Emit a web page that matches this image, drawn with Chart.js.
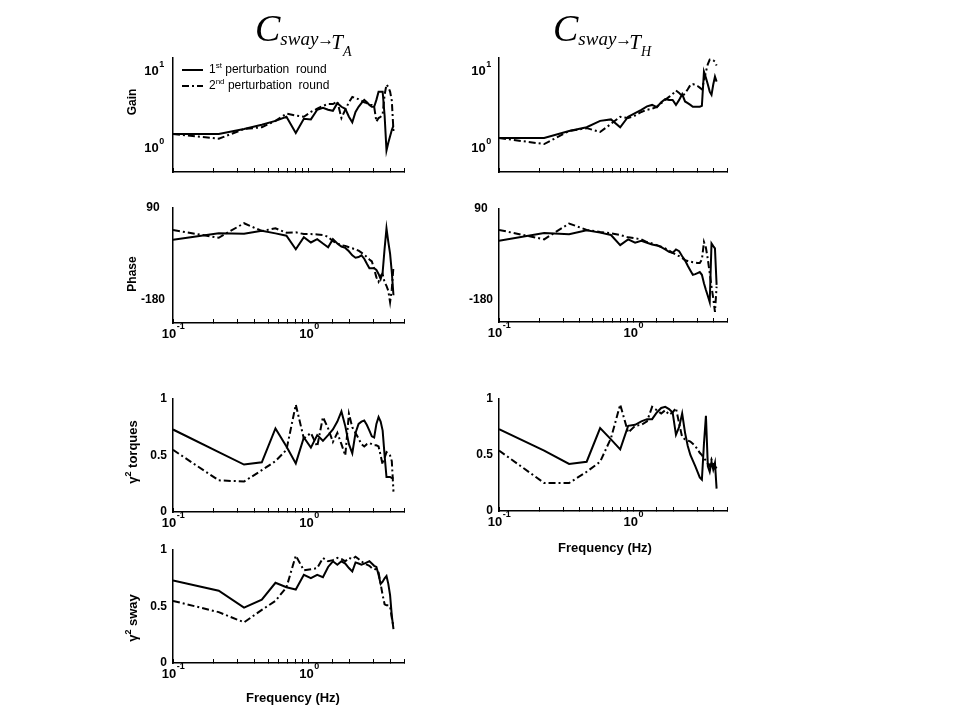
<!DOCTYPE html>
<html>
<head>
<meta charset="utf-8">
<script src="https://cdn.jsdelivr.net/npm/chart.js"></script>
<style>
  body { margin: 0; width: 960px; height: 720px; background: #fff; position: relative; overflow: hidden; }
  canvas { position: absolute; }
  .ttl { position: absolute; font-family: "Liberation Serif", "Times New Roman", serif; font-style: italic;
         line-height: 1; white-space: nowrap; color: #000; z-index: 2; }
  .ttl span { position: relative; }
  .ttl .c { font-size: 38px; }
  .ttl .s { font-size: 19px; top: 4px; }
  .ttl .ar { font-size: 17px; top: 4px; font-style: normal; margin-left: -1px; margin-right: -3px; }
  .ttl .t { font-size: 21px; top: 8px; }
  .ttl .ss { font-size: 14px; top: 15px; }
</style>
</head>
<body>
<div class="ttl" style="left:255px;top:9px"><span class="c">C</span><span class="s">sway</span><span class="ar">→</span><span class="t">T</span><span class="ss">A</span></div>
<div class="ttl" style="left:553px;top:9px"><span class="c">C</span><span class="s">sway</span><span class="ar">→</span><span class="t">T</span><span class="ss">H</span></div>

<script>
// perturbation frequencies (Hz)
const freqHz = [0.1, 0.217, 0.333, 0.45, 0.567, 0.683, 0.8, 0.917, 1.033, 1.15, 1.267, 1.383,
  1.5, 1.617, 1.733, 1.85, 1.967, 2.083, 2.2, 2.317, 2.433, 2.55, 2.667, 2.783,
  2.9, 3.017, 3.133, 3.25, 3.367, 3.483, 3.6, 3.717, 3.833, 3.95, 4.067, 4.183];

// tick labels
const freqTicks = [0.1, 1];
const gainTicks = [1, 10];
const phaseTicks = [90, -180];
const cohTicks = [0, 0.5, 1];

// C sway -> T_A
const gainTA_r1 = [1.55, 1.55, 1.8, 2.05, 2.3, 2.6, 1.6, 2.45, 2.4, 3.2, 3.4, 3.2,
  3.1, 3.9, 3.5, 3.3, 2.6, 2.2, 3.0, 3.5, 3.9, 4.3, 4.0, 3.7,
  3.5, 3.5, 4.3, 5.5, 5.5, 5.5, 2.7, 0.95, 1.2, 1.45, 1.75, 2.0];
const gainTA_r2 = [1.55, 1.35, 1.8, 1.9, 2.3, 2.85, 2.7, 2.6, 3.0, 3.3, 3.6, 3.8,
  3.8, 4.1, 2.5, 3.2, 4.0, 4.7, 4.5, 4.4, 4.2, 4.0, 3.9, 3.7,
  3.7, 3.5, 2.25, 2.5, 2.6, 2.8, 5.0, 6.8, 6.3, 5.5, 4.2, 1.7];
const phaseTA_r1 = [-4, 15, 14, 23, 15, 8, -32, 4, -12, -2, -15, -26,
  -2, -15, -24, -28, -38, -50, -57, -55, -50, -60, -75, -88,
  -88, -88, -93, -105, -120, -100, -30, 30, -10, -45, -100, -168];
const phaseTA_r2 = [25, 2, 45, 22, 30, 17, 18, 13, 13, 12, 10, 5,
  -8, -15, -20, -22, -26, -29, -33, -36, -42, -48, -55, -62,
  -68, -90, -115, -128, -110, -105, -130, -140, -155, -188, -150, -83];
const cohTorqTA_r1 = [0.73, 0.53, 0.42, 0.44, 0.74, 0.58, 0.43, 0.66, 0.57, 0.68, 0.63, 0.68,
  0.73, 0.8, 0.89, 0.76, 0.6, 0.52, 0.7, 0.78, 0.8, 0.81, 0.77, 0.72,
  0.67, 0.66, 0.78, 0.84, 0.8, 0.72, 0.5, 0.31, 0.31, 0.31, 0.3, 0.3];
const cohTorqTA_r2 = [0.55, 0.28, 0.27, 0.37, 0.45, 0.55, 0.95, 0.65, 0.7, 0.58, 0.84, 0.74,
  0.62, 0.7, 0.6, 0.5, 0.87, 0.75, 0.7, 0.65, 0.6, 0.58, 0.6, 0.61,
  0.6, 0.59, 0.59, 0.58, 0.5, 0.42, 0.48, 0.53, 0.52, 0.5, 0.45, 0.18];
const cohSwayTA_r1 = [0.73, 0.64, 0.49, 0.56, 0.71, 0.67, 0.65, 0.78, 0.75, 0.78, 0.76, 0.85,
  0.9, 0.87, 0.9, 0.88, 0.84, 0.81, 0.89, 0.88, 0.87, 0.88, 0.89, 0.9,
  0.88, 0.86, 0.85, 0.78, 0.7, 0.72, 0.75, 0.77, 0.7, 0.6, 0.42, 0.3];
const cohSwayTA_r2 = [0.55, 0.45, 0.36, 0.47, 0.55, 0.67, 0.95, 0.82, 0.83, 0.84, 0.93, 0.9,
  0.91, 0.93, 0.92, 0.9, 0.93, 0.92, 0.94, 0.92, 0.9, 0.88, 0.87, 0.86,
  0.84, 0.84, 0.82, 0.8, 0.7, 0.6, 0.52, 0.51, 0.51, 0.5, 0.4, 0.32];

// C sway -> T_H
const gainTH_r1 = [1.38, 1.38, 1.7, 1.9, 2.3, 2.4, 1.9, 2.6, 2.9, 3.2, 3.55, 3.7,
  3.45, 4.0, 4.4, 4.3, 4.3, 3.7, 4.3, 5.1, 4.1, 3.9, 3.7, 3.5,
  3.5, 3.5, 3.5, 3.6, 10, 8.3, 6.8, 5.5, 5.0, 6.8, 8.6, 7.4];
const gainTH_r2 = [1.38, 1.15, 1.7, 1.85, 1.65, 2.1, 2.6, 2.5, 2.7, 3.0, 3.2, 3.3,
  3.5, 3.9, 4.3, 4.7, 5.1, 5.7, 5.3, 4.8, 5.2, 5.9, 6.7, 6.9,
  6.7, 6.5, 6.2, 5.9, 7.5, 10, 12.5, 14.3, 14.2, 14, 13.4, 12];
const phaseTH_r1 = [-4, 19, 15, 27, 20, 13, -17, 0, -10, -4, -10, -15,
  -18, -23, -30, -37, -40, -30, -35, -50, -62, -78, -92, -105,
  -103, -100, -97, -105, -130, -150, -168, -186, -12, -20, -27, -135];
const phaseTH_r2 = [28, 0, 47, 28, 22, 18, 13, 6, 3, 0, -8, -12,
  -17, -22, -27, -33, -40, -45, -50, -55, -62, -64, -66, -68,
  -69, -70, -70, -60, -8, -25, -60, -100, -140, -175, -215, -140];
const cohTorqTH_r1 = [0.73, 0.54, 0.42, 0.44, 0.74, 0.64, 0.55, 0.76, 0.77, 0.8, 0.82, 0.82,
  0.88, 0.92, 0.93, 0.91, 0.88, 0.68, 0.75, 0.87, 0.7, 0.58, 0.5, 0.45,
  0.4, 0.35, 0.3, 0.28, 0.6, 0.85, 0.4, 0.35, 0.44, 0.37, 0.43, 0.2];
const cohTorqTH_r2 = [0.54, 0.25, 0.25, 0.35, 0.44, 0.65, 0.95, 0.7, 0.76, 0.77, 0.8, 0.93,
  0.9, 0.87, 0.9, 0.86, 0.88, 0.92, 0.78, 0.66, 0.64, 0.63, 0.62, 0.6,
  0.58, 0.55, 0.52, 0.5, 0.47, 0.45, 0.42, 0.4, 0.46, 0.42, 0.4, 0.38];

const SANS = '"Liberation Sans", Arial, sans-serif';
const DASH = [7, 3, 2, 3];
const YW = 50, XH = 48, PT = 8, PR = 8;

function pts(vals) {
  return freqHz.map((f, i) => ({ x: f, y: vals[i] }));
}

function powLabel(ctx, x, y, v) {
  const e = String(Math.round(Math.log10(v)));
  ctx.font = 'bold 13px ' + SANS;
  const wb = ctx.measureText('10').width;
  ctx.font = 'bold 9px ' + SANS;
  const we = ctx.measureText(e).width;
  const x0 = x - (wb + we) / 2;
  ctx.textAlign = 'left';
  ctx.textBaseline = 'middle';
  ctx.font = 'bold 13px ' + SANS;
  ctx.fillText('10', x0, y);
  ctx.font = 'bold 9px ' + SANS;
  ctx.fillText(e, x0 + wb + 0.5, y - 7);
}

// text pieces: [text, size, raise]
function drawPieces(ctx, pieces, x, y, weight, align) {
  let total = 0;
  pieces.forEach(p => { ctx.font = weight + ' ' + p[1] + 'px ' + SANS; total += ctx.measureText(p[0]).width; });
  let cx = align === 'center' ? x - total / 2 : x;
  ctx.textAlign = 'left';
  ctx.textBaseline = 'middle';
  pieces.forEach(p => {
    ctx.font = weight + ' ' + p[1] + 'px ' + SANS;
    ctx.fillText(p[0], cx, y - p[2]);
    cx += ctx.measureText(p[0]).width;
  });
}

const decoPlugin = {
  id: 'deco',
  afterDraw(chart, args, o) {
    const ctx = chart.ctx, xs = chart.scales.x, ys = chart.scales.y, a = chart.chartArea;
    ctx.save();
    ctx.fillStyle = '#000';
    ctx.strokeStyle = '#000';
    if (o.xTicks) o.xTicks.forEach(v => powLabel(ctx, xs.getPixelForValue(v), a.bottom + 11, v));
    if (o.yPow) o.yPow.forEach(v => powLabel(ctx, a.left - o.yPad, ys.getPixelForValue(v), v));
    if (o.yNum) {
      ctx.font = 'bold 12px ' + SANS;
      ctx.textAlign = o.yAlign;
      ctx.textBaseline = 'middle';
      o.yNum.forEach(v => ctx.fillText(String(v), a.left - o.yPad, ys.getPixelForValue(v)));
    }
    if (o.yTitle) {
      ctx.save();
      ctx.translate(o.yTitle.x - o.ox, o.yTitle.y - o.oy);
      ctx.rotate(-Math.PI / 2);
      drawPieces(ctx, o.yTitle.pieces, 0, 0, 'bold', 'center');
      ctx.restore();
    }
    if (o.xTitle) {
      drawPieces(ctx, [['Frequency (Hz)', 13, 0]], o.xTitle.x - o.ox, o.xTitle.y - o.oy, 'bold', 'center');
    }
    if (o.legend) {
      const ds = chart.data.datasets;
      const rows = [[70, ds[0], 'st'], [86, ds[1], 'nd']];
      rows.forEach((r, i) => {
        const y = r[0] - o.oy;
        ctx.lineWidth = 2;
        ctx.setLineDash(r[1].borderDash || []);
        ctx.beginPath();
        ctx.moveTo(182 - o.ox, y);
        ctx.lineTo(203 - o.ox, y);
        ctx.stroke();
        ctx.setLineDash([]);
        drawPieces(ctx, [[String(i + 1), 12, 0], [r[2], 8, 4], [' perturbation  round', 12, 0]],
          209 - o.ox, y, 'normal', 'left');
      });
    }
    ctx.restore();
  }
};

function makePanel(box, yScale, s1, s2, deco) {
  const cv = document.createElement('canvas');
  const left = box.l - YW, top = box.t - PT;
  const w = box.r - box.l + YW + PR, h = box.b - box.t + PT + XH;
  cv.width = w; cv.height = h;
  cv.style.left = left + 'px'; cv.style.top = top + 'px';
  cv.style.width = w + 'px'; cv.style.height = h + 'px';
  document.body.appendChild(cv);
  deco.ox = left; deco.oy = top;

  return new Chart(cv, {
    type: 'line',
    data: {
      datasets: [
        { label: '1st perturbation round', data: pts(s1), borderColor: '#000', borderWidth: 2,
          pointRadius: 0, fill: false, tension: 0 },
        { label: '2nd perturbation round', data: pts(s2), borderColor: '#000', borderWidth: 2,
          borderDash: DASH, pointRadius: 0, fill: false, tension: 0 }
      ]
    },
    options: {
      responsive: false,
      animation: false,
      events: [],
      layout: { padding: { top: PT, right: PR, left: 0, bottom: 0 } },
      plugins: { legend: { display: false }, tooltip: { enabled: false }, deco: deco },
      scales: {
        x: {
          type: 'logarithmic', min: 0.1, max: 5, position: 'bottom',
          afterFit(s) { s.height = XH; },
          border: { display: true, color: '#000', width: 1.5 },
          grid: { display: true, drawOnChartArea: false, drawTicks: true, tickLength: -4, color: '#000', lineWidth: 1 },
          ticks: { display: false }
        },
        y: Object.assign({
          position: 'left',
          afterFit(s) { s.width = YW; },
          border: { display: true, color: '#000', width: 1.5 },
          grid: { display: true, drawOnChartArea: false, drawTicks: false },
          ticks: { display: false }
        }, yScale)
      }
    },
    plugins: [decoPlugin]
  });
}

const gainY = { type: 'logarithmic', min: 0.5, max: 15 };
const cohY = { type: 'linear', min: 0, max: 1 };

makePanel({ l: 173, r: 404, t: 58, b: 172 }, gainY, gainTA_r1, gainTA_r2,
  { yPow: gainTicks, yPad: 19, yTitle: { pieces: [['Gain', 12, 0]], x: 133, y: 102 }, legend: true });
makePanel({ l: 499, r: 727, t: 58, b: 172 }, gainY, gainTH_r1, gainTH_r2,
  { yPow: gainTicks, yPad: 18 });
makePanel({ l: 173, r: 404, t: 208, b: 323 }, { type: 'linear', min: -250, max: 90 }, phaseTA_r1, phaseTA_r2,
  { xTicks: freqTicks, yNum: phaseTicks, yAlign: 'center', yPad: 20, yTitle: { pieces: [['Phase', 12, 0]], x: 133, y: 274 } });
makePanel({ l: 499, r: 727, t: 209, b: 322 }, { type: 'linear', min: -245, max: 90 }, phaseTH_r1, phaseTH_r2,
  { xTicks: freqTicks, yNum: phaseTicks, yAlign: 'center', yPad: 18 });
makePanel({ l: 173, r: 404, t: 399, b: 512 }, cohY, cohTorqTA_r1, cohTorqTA_r2,
  { xTicks: freqTicks, yNum: cohTicks, yAlign: 'right', yPad: 6,
    yTitle: { pieces: [['γ', 13, 0], ['2', 9, 4], [' torques', 13, 0]], x: 133, y: 452 } });
makePanel({ l: 499, r: 727, t: 399, b: 511 }, cohY, cohTorqTH_r1, cohTorqTH_r2,
  { xTicks: freqTicks, yNum: cohTicks, yAlign: 'right', yPad: 6, xTitle: { x: 605, y: 548 } });
makePanel({ l: 173, r: 404, t: 550, b: 663 }, cohY, cohSwayTA_r1, cohSwayTA_r2,
  { xTicks: freqTicks, yNum: cohTicks, yAlign: 'right', yPad: 6,
    yTitle: { pieces: [['γ', 13, 0], ['2', 9, 4], [' sway', 13, 0]], x: 133, y: 618 }, xTitle: { x: 293, y: 698 } });
</script>
</body>
</html>
